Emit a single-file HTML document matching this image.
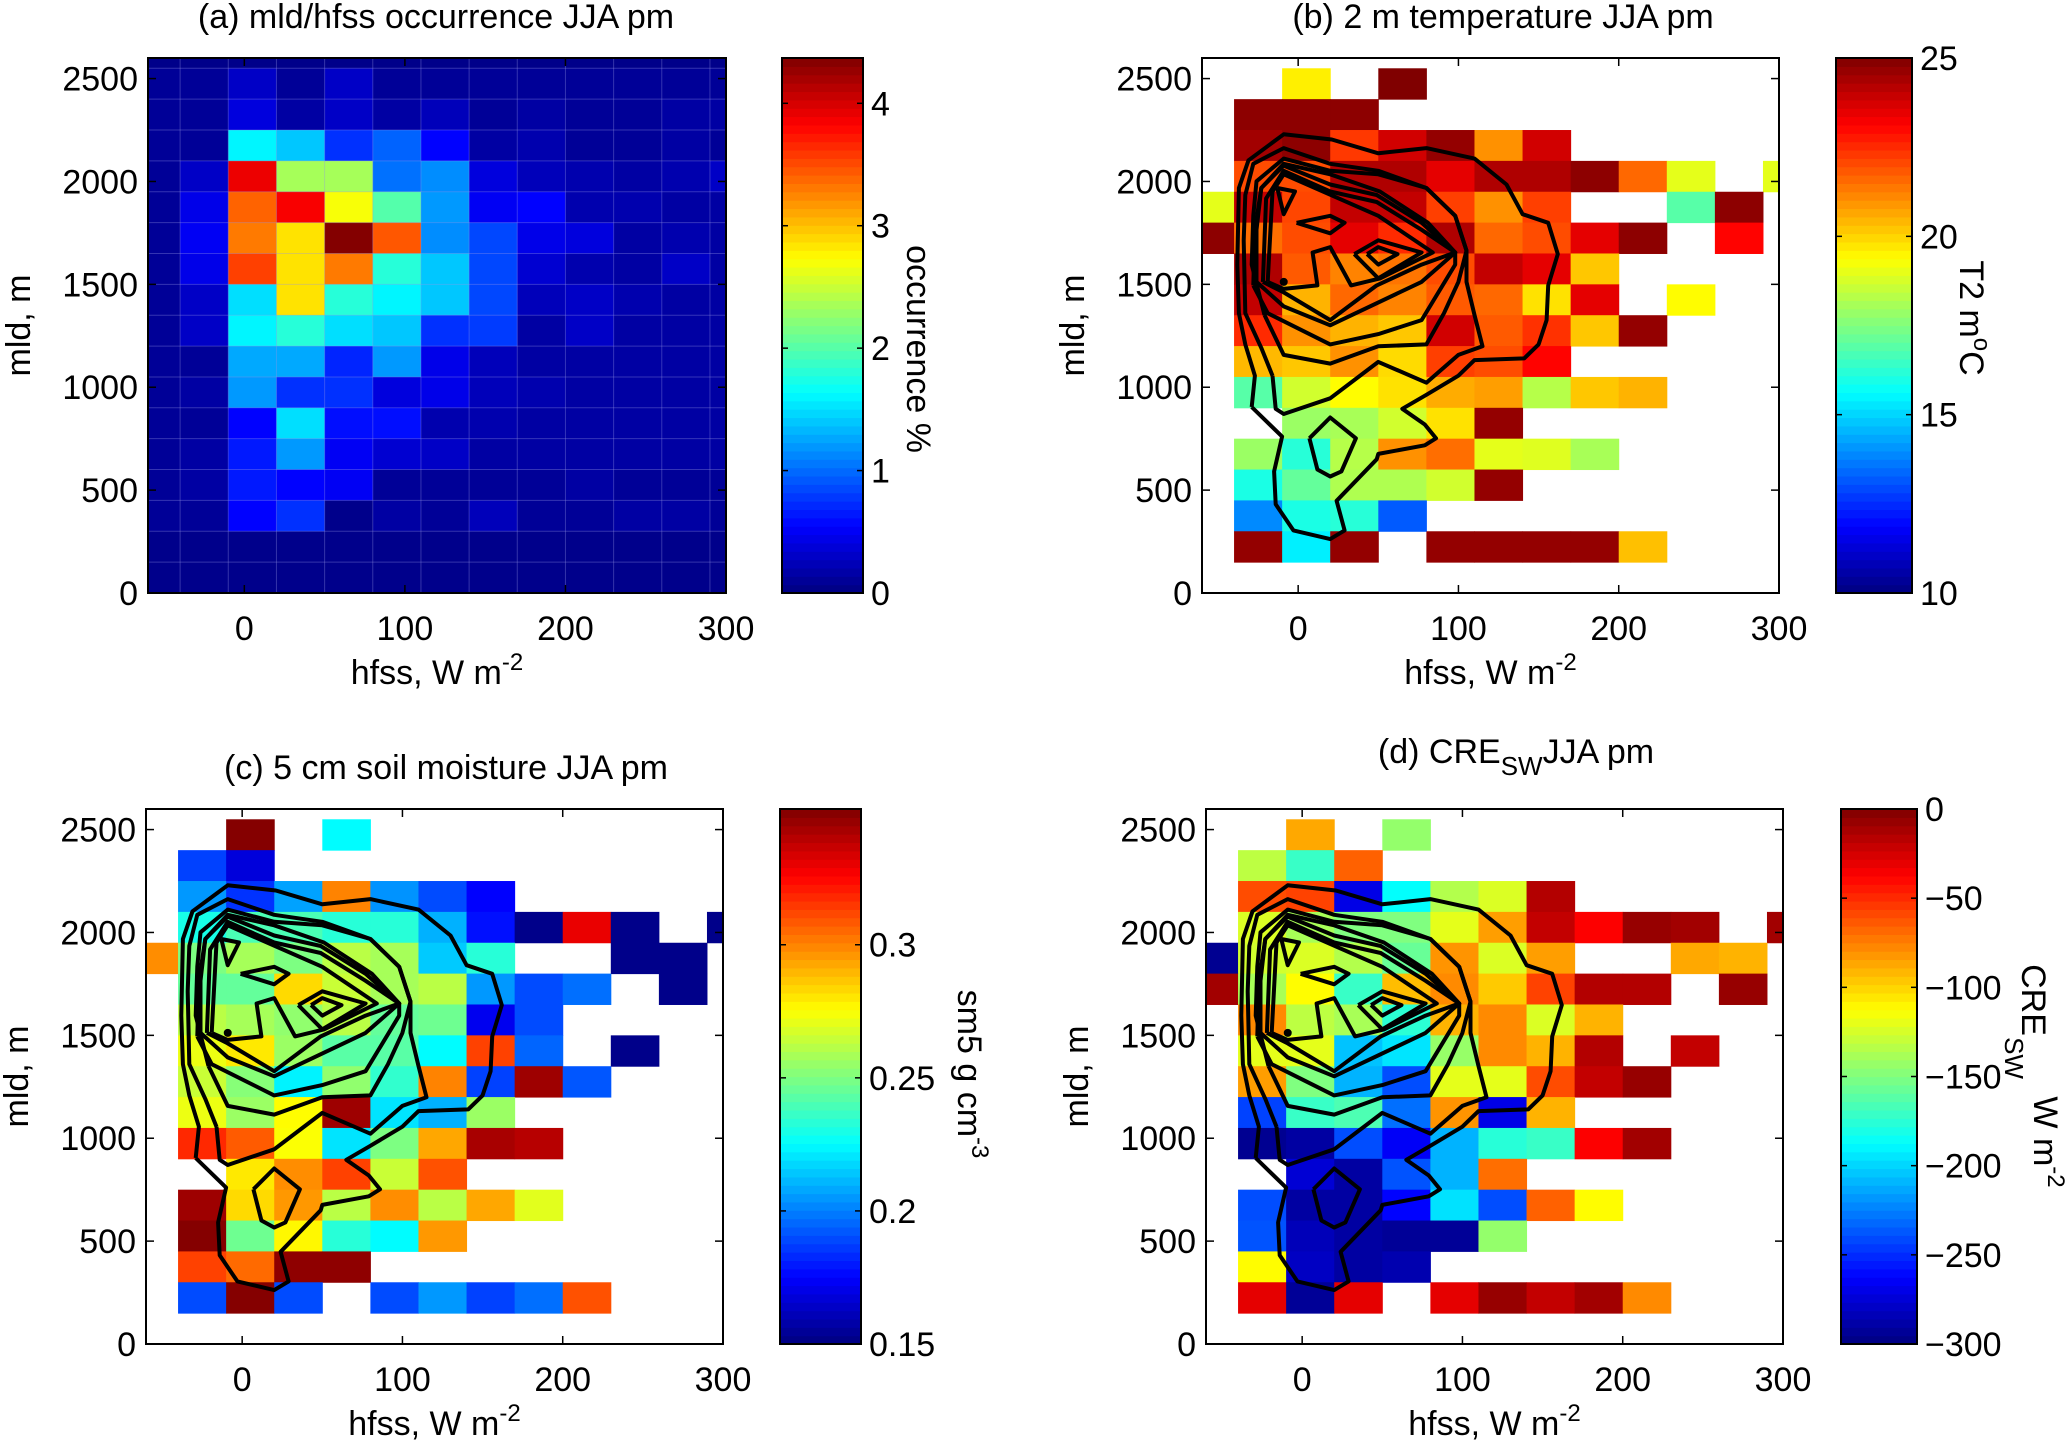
<!DOCTYPE html>
<html><head><meta charset="utf-8"><style>
html,body{margin:0;padding:0;background:#fff;}
svg{display:block;font-family:"Liberation Sans",Arial,sans-serif;}
</style></head><body>
<svg id="fig" width="2067" height="1446" viewBox="0 0 2067 1446" xmlns="http://www.w3.org/2000/svg"></svg>
<script>
const n = null;
// bins: hfss bin start and width, mld bin start and width
const hfssBinStart = -70, hfssBinWidth = 30;
const mldBinTop = 2550, mldBinHeight = 150;
const xTicks = [0, 100, 200, 300];
const yTicks = [0, 500, 1000, 1500, 2000, 2500];

const occurrence = [
[0.1,0.1,0.3,0.1,0.3,0.1,0.1,0.1,0.1,0.1,0.1,0.1,0.1],
[0.1,0.1,0.4,0.15,0.3,0.15,0.25,0.1,0.15,0.1,0.1,0.15,0.15],
[0.1,0.1,1.6,1.4,0.75,0.97,0.55,0.15,0.2,0.1,0.1,0.15,0.1],
[0.1,0.3,3.9,2.35,2.35,1.03,1.15,0.4,0.25,0.2,0.15,0.2,0.3],
[0.1,0.45,3.4,3.85,2.7,2.0,1.2,0.5,0.55,0.2,0.2,0.15,0.15],
[0.1,0.5,3.3,2.85,4.35,3.45,1.15,0.85,0.45,0.4,0.15,0.2,0.15],
[0.1,0.45,3.55,2.85,3.3,1.8,1.4,0.85,0.35,0.2,0.15,0.3,0.15],
[0.1,0.3,1.5,2.85,1.8,1.6,1.4,0.85,0.25,0.3,0.2,0.15,0.15],
[0.1,0.3,1.6,1.8,1.5,1.4,0.75,0.8,0.15,0.3,0.15,0.15,0.15],
[0.1,0.1,1.27,1.27,0.7,1.2,0.45,0.25,0.15,0.15,0.15,0.15,0.15],
[0.1,0.15,1.2,0.75,0.75,0.4,0.45,0.25,0.2,0.15,0.15,0.15,0.15],
[0.1,0.1,0.55,1.5,0.6,0.6,0.2,0.2,0.15,0.15,0.15,0.15,0.15],
[0.1,0.15,0.65,1.2,0.5,0.35,0.3,0.15,0.15,0.15,0.15,0.15,0.15],
[0.1,0.15,0.65,0.55,0.5,0.1,0.1,0.1,0.1,0.15,0.1,0.1,0.1],
[0.1,0.1,0.55,0.75,0.05,0.15,0.1,0.25,0.1,0.1,0.15,0.15,0.1],
[0.05,0.05,0.05,0.05,0.05,0.05,0.05,0.05,0.05,0.05,0.05,0.05,0.05],
[0.05,0.05,0.05,0.05,0.05,0.05,0.05,0.05,0.05,0.05,0.05,0.05,0.05]
];
const temperature = [
[n,n,19.6,n,25,n,n,n,n,n,n,n,n],
[n,24.8,24.8,24.8,n,n,n,n,n,n,n,n,n],
[n,24.5,24.8,22.3,23.8,24.7,21,23.8,n,n,n,n,n],
[n,22,22,24.3,24.3,23.5,24.3,24.3,24.8,21.6,19,n,19],
[19,24,22.1,24,24,22.2,21,22.2,n,n,16.9,24.8,n],
[24.8,21.5,22,23.5,22.5,24.3,21.6,22,23.5,24.8,n,23.1,n],
[n,24.3,21.8,21.2,21.4,22,24,23.5,20.2,n,n,n,n],
[n,24,20.5,21.6,21.2,21.8,21.6,19.8,23.5,n,19.4,n,n],
[n,22.5,21,20.5,20.2,23.8,21.8,22.4,20.2,24.7,n,n,n],
[n,20.4,20.2,21,19.9,22.2,22,23.1,n,n,n,n,n],
[n,16.9,18.7,19.4,19.8,20.6,20.8,18.3,20.2,20.5,n,n,n],
[n,n,17.9,18.1,18.7,19.8,24.7,n,n,n,n,n,n],
[n,17.9,16.2,18.3,21,21.5,19,18.9,18.1,n,n,n,n],
[n,16,17.1,18.2,18.2,18.7,24.7,n,n,n,n,n,n],
[n,13.9,16,16.2,13.2,n,n,n,n,n,n,n,n],
[n,24.7,15.4,24.7,n,24.7,24.7,24.7,24.7,20.3,n,n,n]
];
const soilMoisture = [
[n,n,0.35,n,0.225,n,n,n,n,n,n,n,n],
[n,0.188,0.168,n,n,n,n,n,n,n,n,n,n],
[n,0.205,0.185,0.207,0.30,0.204,0.19,0.175,n,n,n,n,n],
[n,0.23,0.24,0.24,0.233,0.233,0.21,0.178,0.152,0.33,0.152,n,0.152],
[0.298,0.25,0.258,0.25,0.262,0.258,0.215,0.233,n,n,0.152,0.152,n],
[n,0.245,0.245,0.283,0.265,0.258,0.262,0.205,0.19,0.197,n,0.152,n],
[n,0.262,0.258,0.254,0.262,0.245,0.247,0.172,0.19,n,n,n,n],
[n,0.272,0.28,0.256,0.243,0.243,0.225,0.313,0.195,n,0.152,n,n],
[n,0.265,0.252,0.223,0.254,0.235,0.30,0.188,0.345,0.192,n,n,n],
[n,0.272,0.256,0.276,0.345,0.22,0.21,0.256,n,n,n,n,n],
[n,0.318,0.308,0.275,0.22,0.25,0.293,0.343,0.34,n,n,n,n],
[n,n,0.28,0.298,0.313,0.265,0.31,n,n,n,n,n,n],
[n,0.345,0.283,0.296,0.262,0.298,0.262,0.293,0.27,n,n,n,n],
[n,0.35,0.247,0.277,0.233,0.225,0.296,n,n,n,n,n,n],
[n,0.313,0.305,0.348,0.348,n,n,n,n,n,n,n,n],
[n,0.19,0.35,0.19,n,0.19,0.205,0.188,0.197,0.31,n,n,n]
];
const creSW = [
[n,n,-87,n,-144,n,n,n,n,n,n,n,n],
[n,-132,-171,-66,n,n,n,n,n,n,n,n,n],
[n,-60,-57,-270,-187,-135,-123,-15,n,n,n,n,n],
[n,-123,-138,-150,-150,-120,-84,-20,-37,-7,-10,n,-10],
[-295,-126,-123,-135,-157,-81,-123,-84,n,n,-87,-90,n],
[-10,-138,-112,-171,-93,-78,-97,-57,-15,-15,n,-7,n],
[n,-78,-132,-138,-175,-90,-78,-123,-90,n,n,n,n],
[n,-120,-120,-205,-195,-143,-78,-90,-15,n,-20,n,n],
[n,-84,-150,-210,-240,-120,-120,-60,-20,-7,n,n,n],
[n,-243,-171,-165,-230,-81,-270,-90,n,n,n,n,n],
[n,-295,-290,-240,-265,-210,-176,-171,-37,-10,n,n,n],
[n,n,-275,-290,-238,-210,-70,n,n,n,n,n,n],
[n,-240,-290,-290,-262,-196,-240,-66,-112,n,n,n,n],
[n,-238,-283,-290,-293,-293,-144,n,n,n,n,n,n],
[n,-112,-280,-290,-286,n,n,n,n,n,n,n,n],
[n,-30,-293,-30,n,-30,-7,-20,-10,-78,n,n,n]
];
// occurrence contours (hfss, mld) pairs
const contour1 = [[-29,904],[-27,1056],[-33,1208],[-37,1360],[-38,1596],[-37,1968],[-31,2103],[-9,2229],[21,2204],[50,2137],[80,2162],[110,2111],[130,1985],[140,1841],[156,1799],[162,1647],[156,1495],[155,1326],[150,1208],[141,1140],[110,1132],[100,1056],[80,963],[65,895],[79,819],[86,752],[79,718],[50,676],[49,650],[24,448],[29,304],[20,262],[-3,304],[-14,431],[-15,591],[-10,760],[-29,904]];
const contour2 = [[-16,1056],[-14,895],[-9,870],[20,946],[50,1123],[80,1022],[100,1157],[115,1199],[110,1351],[105,1512],[105,1664],[98,1833],[80,1968],[50,2052],[20,2086],[-9,2162],[-28,2086],[-33,1934],[-34,1714],[-33,1360],[-23,1191],[-16,1056]];
const contour3 = [[-21,1351],[-9,1157],[20,1115],[50,1199],[80,1208],[91,1360],[100,1512],[105,1664],[98,1833],[80,1968],[50,2035],[20,2052],[-9,2111],[-26,2001],[-28,1834],[-29,1596],[-21,1351]];
const contour4 = [[-28,1495],[-19,1360],[20,1208],[50,1258],[77,1326],[98,1596],[98,1655],[81,1799],[51,1951],[20,2035],[-9,2086],[-23,1968],[-27,1765],[-28,1495]];
const contour5 = [[-26,1512],[-9,1393],[20,1301],[77,1512],[98,1655],[77,1799],[49,1934],[20,1985],[-9,2077],[-23,1968],[-26,1765],[-26,1512]];
const contour6 = [[-22,1512],[-9,1461],[20,1326],[49,1495],[77,1596],[98,1655],[77,1765],[49,1900],[20,1951],[-9,2052],[-20,1917],[-22,1512]];
const contour7 = [[-19,1512],[-9,1478],[12,1495],[9,1655],[20,1681],[33,1495],[51,1529],[84,1655],[50,1833],[-9,2035],[-16,1951],[-19,1512]];
const loop1 = [[-1,1799],[20,1833],[29,1799],[20,1748],[-1,1799]];
const loop2 = [[-13,1968],[-2,1951],[-9,1841],[-13,1968]];
const loop3 = [[35,1647],[50,1714],[77,1655],[50,1529],[35,1647]];
const loop4 = [[43,1647],[50,1681],[62,1647],[50,1596],[43,1647]];
const loop5 = [[7,752],[20,853],[36,752],[27,591],[20,566],[12,600],[7,752]];
const contourDot = [-9,1512];
const contours = [contour1,contour2,contour3,contour4,contour5,contour6,contour7,loop1,loop2,loop3,loop4,loop5];

const cbTicksA = [0,1,2,3,4];
const cbTicksB = [10,15,20,25];
const cbTicksC = [0.15,0.2,0.25,0.3];
const cbTicksD = [0,-50,-100,-150,-200,-250,-300];

const svg = document.getElementById('fig');
const NS = 'http://www.w3.org/2000/svg';
function mk(tag, attrs, parent) {
  const e = document.createElementNS(NS, tag);
  for (const k in attrs) e.setAttribute(k, attrs[k]);
  (parent || svg).appendChild(e);
  return e;
}
function jet(t) {
  t = Math.max(0, Math.min(1, t));
  const c = v => Math.round(255 * Math.max(0, Math.min(1, v)));
  return `rgb(${c(1.5-Math.abs(4*t-3))},${c(1.5-Math.abs(4*t-2))},${c(1.5-Math.abs(4*t-1))})`;
}
function fmt(v){ return String(v).replace('-', '\u2212'); }

const panels = [
  {id:'a', data:occurrence, vmin:0, vmax:4.37, px:148, pw:578, py:58, ph:535, cbx:782, cbw:81, ticks:cbTicksA, contours:false,
   title:'(a) mld/hfss occurrence JJA pm', tcx:436, tcy:28},
  {id:'b', data:temperature, vmin:10, vmax:25, px:1202, pw:577, py:58, ph:535, cbx:1836, cbw:76, ticks:cbTicksB, contours:true,
   title:'(b) 2 m temperature JJA pm', tcx:1503, tcy:28},
  {id:'c', data:soilMoisture, vmin:0.15, vmax:0.351, px:146, pw:577, py:809, ph:535, cbx:780, cbw:81, ticks:cbTicksC, contours:true,
   title:'(c) 5 cm soil moisture JJA pm', tcx:446, tcy:779},
  {id:'d', data:creSW, vmin:-300, vmax:0, px:1206, pw:577, py:809, ph:535, cbx:1841, cbw:76, ticks:cbTicksD, contours:true,
   title:null, tcx:1516, tcy:763}
];

panels.forEach(p => {
  const g = mk('g', {});
  
  
  const xs = v => p.px + (v + 60) / 360 * p.pw;
  const ys = v => p.py + p.ph - v / 2600 * p.ph;
  const clipId = 'clip' + p.id;
  const cp = mk('clipPath', {id: clipId}, g);
  mk('rect', {x:p.px, y:p.py, width:p.pw, height:p.ph}, cp);
  const cells = mk('g', {'clip-path':`url(#${clipId})`}, g);
  
  
  if (p.id === 'a') mk('rect', {x:p.px, y:p.py, width:p.pw, height:p.ph, fill:jet(0.01)}, cells);
  p.data.forEach((row, r) => {
    const top = mldBinTop - r * mldBinHeight;
    row.forEach((v, c) => {
      if (v === null) return;
      const x0 = hfssBinStart + c * hfssBinWidth;
      const rect = mk('rect', {x:xs(x0), y:ys(top), width:xs(x0+hfssBinWidth)-xs(x0)+0.5, height:ys(top-mldBinHeight)-ys(top)+0.5,
        fill: jet((v - p.vmin) / (p.vmax - p.vmin))}, cells);
      
      
    });
  });
  if (p.id === 'a') {
    for (let c = 0; c <= 13; c++) {
      const x = xs(hfssBinStart + c * hfssBinWidth);
      mk('line', {x1:x, x2:x, y1:p.py, y2:p.py+p.ph, stroke:'rgba(150,150,230,0.35)', 'stroke-width':1}, cells);
    }
    for (let r = 0; r <= 17; r++) {
      const y = ys(mldBinTop - r * mldBinHeight);
      mk('line', {x1:p.px, x2:p.px+p.pw, y1:y, y2:y, stroke:'rgba(150,150,230,0.35)', 'stroke-width':1}, cells);
    }
  }
  if (p.contours) {
    contours.forEach(cn => {
      const pl = mk('polyline', {points: cn.map(q => xs(q[0]).toFixed(1)+','+ys(q[1]).toFixed(1)).join(' '),
        fill:'none', stroke:'#000', 'stroke-width':4, 'stroke-linejoin':'round'}, cells);
      
      
    });
    mk('circle', {cx:xs(contourDot[0]), cy:ys(contourDot[1]), r:4, fill:'#000'}, cells);
  }
  const frame = mk('rect', {x:p.px, y:p.py, width:p.pw, height:p.ph, fill:'none', stroke:'#000', 'stroke-width':2}, g);
  
  
  xTicks.forEach(t => {
    const x = xs(t);
    mk('line', {x1:x, x2:x, y1:p.py+p.ph, y2:p.py+p.ph-8, stroke:'#000', 'stroke-width':1.5}, g);
    mk('line', {x1:x, x2:x, y1:p.py, y2:p.py+8, stroke:'#000', 'stroke-width':1.5}, g);
    const tx = mk('text', {x:x, y:p.py+p.ph+47, 'font-size':34, 'text-anchor':'middle'}, g);
    tx.textContent = t;
    
    
  });
  yTicks.forEach(t => {
    const y = ys(t);
    mk('line', {x1:p.px, x2:p.px+8, y1:y, y2:y, stroke:'#000', 'stroke-width':1.5}, g);
    mk('line', {x1:p.px+p.pw, x2:p.px+p.pw-8, y1:y, y2:y, stroke:'#000', 'stroke-width':1.5}, g);
    const ty = mk('text', {x:p.px-10, y:y+12, 'font-size':34, 'text-anchor':'end'}, g);
    ty.textContent = t;
    
    
  });
  const xl = mk('text', {x:p.px+p.pw/2, y:p.py+p.ph+91, 'font-size':34, 'text-anchor':'middle'}, g);
  xl.innerHTML = 'hfss, W m<tspan dy="-14" font-size="24">-2</tspan>';
  
  
  const ylx = p.px - 118;
  const yl = mk('text', {x:0, y:0, 'font-size':34, 'text-anchor':'middle', transform:`translate(${ylx},${p.py+p.ph/2}) rotate(-90)`}, g);
  yl.textContent = 'mld, m';
  
  
  if (p.title) {
    const tt = mk('text', {x:p.tcx, y:p.tcy, 'font-size':34, 'text-anchor':'middle'}, g);
    tt.textContent = p.title;
    
    
  } else {
    const tt = mk('text', {x:p.tcx, y:p.tcy, 'font-size':34, 'text-anchor':'middle'}, g);
    tt.innerHTML = '(d) CRE<tspan dy="12" font-size="26">SW</tspan><tspan dy="-12">JJA pm</tspan>';
    
    
  }
  const cb = mk('g', {}, g);
  
  
  const steps = 64;
  for (let i = 0; i < steps; i++) {
    const y0 = p.py + p.ph - (i+1) / steps * p.ph;
    mk('rect', {x:p.cbx, y:y0, width:p.cbw, height:p.ph/steps+0.6, fill:jet((i+0.5)/steps)}, cb);
  }
  mk('rect', {x:p.cbx, y:p.py, width:p.cbw, height:p.ph, fill:'none', stroke:'#000', 'stroke-width':2}, cb);
  const cbs = v => p.py + p.ph - (v - p.vmin) / (p.vmax - p.vmin) * p.ph;
  p.ticks.forEach(t => {
    const y = cbs(t);
    mk('line', {x1:p.cbx, x2:p.cbx+6, y1:y, y2:y, stroke:'#000', 'stroke-width':1.5}, cb);
    mk('line', {x1:p.cbx+p.cbw, x2:p.cbx+p.cbw-6, y1:y, y2:y, stroke:'#000', 'stroke-width':1.5}, cb);
    const tl = mk('text', {x:p.cbx+p.cbw+8, y:y+12, 'font-size':34}, cb);
    tl.textContent = fmt(t);
    
    
  });
});

function rotLabel(x, y, html, name) {
  const t = mk('text', {x:0, y:0, 'font-size':34, 'text-anchor':'middle', transform:`translate(${x},${y}) rotate(90)`});
  t.innerHTML = html;
  
  
}
rotLabel(907, 349, 'occurrence %', 'colorbar-title');
rotLabel(1960, 318, 'T2 m<tspan dy="-14" font-size="24">o</tspan><tspan dy="14">C</tspan>', 'colorbar-title');
rotLabel(958, 1074, 'sm5 g cm<tspan dy="-14" font-size="24">-3</tspan>', 'colorbar-title');
rotLabel(2022, 1000, 'CRE', 'colorbar-title');
rotLabel(2005, 1058, '<tspan font-size="26">SW</tspan>', 'colorbar-title');
rotLabel(2034, 1142, 'W m<tspan dy="-14" font-size="24">-2</tspan>', 'colorbar-title');
</script>
</body></html>
